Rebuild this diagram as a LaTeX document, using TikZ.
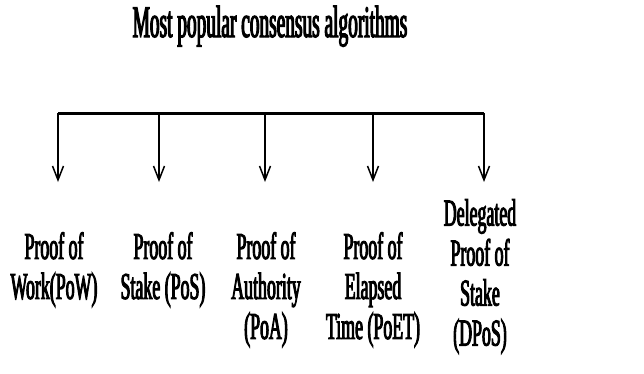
\documentclass[tikz,border=0pt]{standalone}
\usepackage{fontspec}
\setmainfont{Liberation Serif}
\newfontfamily\titlefont{Liberation Serif}[FakeStretch=0.43,FakeBold=2.5]
\newfontfamily\algfont{Liberation Serif}[FakeStretch=0.47,FakeBold=2.5]
\usetikzlibrary{arrows.meta}
\tikzset{
  hdr/.style={font=\titlefont\fontsize{45}{48}\selectfont, inner sep=0pt, anchor=base},
  alg/.style={font=\algfont\fontsize{38}{40}\selectfont, align=center, inner sep=0pt, anchor=north},
  bus/.style={line width=3pt, black},
  brn/.style={-{Straight Barb[length=14pt,width=11pt,line width=1.5pt]}, line width=1.5pt},
}

\begin{document}
\begin{tikzpicture}[x=1pt,y=-1pt]
  \useasboundingbox (0,0) rectangle (644,373);
  % heading and bus line
  \node[hdr] (title) at (270,37) {Most popular consensus algorithms};
  \coordinate (busL) at (58,113);
  \coordinate (busR) at (484,113);
  \draw[bus] (busL) -- (busR);
  % algorithm labels
  \node[alg] (pow) at (54,232) {Proof of\\Work(PoW)};
  \node[alg] (pos) at (163,232) {Proof of\\Stake (PoS)};
  \node[alg] (poa) at (266,232) {Proof of\\Authority\\(PoA)};
  \node[alg] (poet) at (373,232) {Proof of\\Elapsed\\Time (PoET)};
  \node[alg] (dpos) at (480,199) {Delegated\\Proof of\\Stake\\(DPoS)};
  % branches down from the bus
  \foreach \n/\x in {pow/58,pos/159,poa/265,poet/373,dpos/484} {
    \coordinate (\n-top) at (\x,113);
    \coordinate (\n-tip) at (\x,182);
    \draw[brn] (\n-top) -- (\n-tip);
  }
\end{tikzpicture}
\end{document}
